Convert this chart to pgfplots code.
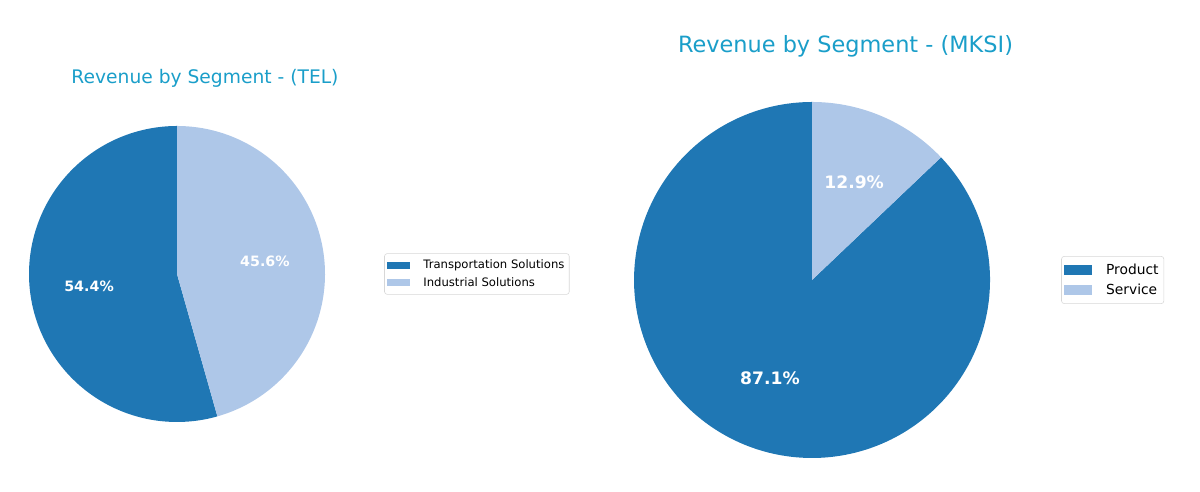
\documentclass[border=0pt]{standalone}
\usepackage{pgfplots}
\pgfplotsset{compat=1.18}
\usepackage{fontspec}
\setmainfont{DejaVu Sans}
\definecolor{cA}{HTML}{1F77B4}
\definecolor{cB}{HTML}{AEC7E8}
\definecolor{ttl}{RGB}{26,158,201}
\definecolor{lgd}{RGB}{215,215,215}

\begin{document}
\begin{tikzpicture}[x=0.72bp,y=0.72bp]
\useasboundingbox (0,0) rectangle (1200,492);
% ---------------- TEL ----------------
\begin{axis}[at={(127.44bp,156.96bp)}, anchor=center,
  width=213.12bp, height=213.12bp, scale only axis, hide axis,
  xmin=-1, xmax=1, ymin=-1, ymax=1, clip=false,
  legend cell align=left,
  legend image code/.code={\fill[#1,sharp corners] (2.9bp,-2.6bp) rectangle (19.4bp,2.6bp);},
  legend style={at={(1.2,0.5)}, anchor=west, draw=lgd, rounded corners=2bp,
    fill=white, font=\fontsize{8.4}{10}\selectfont,
    inner xsep=2bp, inner ysep=3bp, row sep=1.7bp, column sep=8bp,
    nodes={inner sep=1.5bp}}]
% Transportation Solutions 54.4 %, Industrial Solutions 45.6 %
\addplot[fill=cA, draw=none, domain=90:285.84, samples=150, variable=\t]
  ({cos(\t)},{sin(\t)}) -- (0,0) -- cycle;
\addlegendentry{Transportation Solutions}
\addplot[fill=cB, draw=none, domain=285.84:450, samples=150, variable=\t]
  ({cos(\t)},{sin(\t)}) -- (0,0) -- cycle;
\addlegendentry{Industrial Solutions}
\node[text=white, font=\fontsize{10.3}{12}\bfseries\selectfont]
  at (axis cs:{0.6*cos(187.92)},{0.6*sin(187.92)}) {54.4\%};
\node[text=white, font=\fontsize{10.3}{12}\bfseries\selectfont]
  at (axis cs:{0.6*cos(367.92)},{0.6*sin(367.92)}) {45.6\%};
\end{axis}
% ---------------- MKSI ----------------
\begin{axis}[at={(584.64bp,152.64bp)}, anchor=center,
  width=256.32bp, height=256.32bp, scale only axis, hide axis,
  xmin=-1, xmax=1, ymin=-1, ymax=1, clip=false,
  legend cell align=left,
  legend image code/.code={\fill[#1,sharp corners] (2.2bp,-3.4bp) rectangle (22bp,3.4bp);},
  legend style={at={(1.2,0.5)}, anchor=west, draw=lgd, rounded corners=2bp,
    fill=white, font=\fontsize{10}{12}\selectfont,
    inner xsep=2bp, inner ysep=3.5bp, row sep=1.7bp, column sep=8.5bp,
    nodes={inner sep=1.8bp}}]
% Product 87.1 %, Service 12.9 %
\addplot[fill=cA, draw=none, domain=90:403.56, samples=200, variable=\t]
  ({cos(\t)},{sin(\t)}) -- (0,0) -- cycle;
\addlegendentry{Product}
\addplot[fill=cB, draw=none, domain=43.56:90, samples=60, variable=\t]
  ({cos(\t)},{sin(\t)}) -- (0,0) -- cycle;
\addlegendentry{Service}
\node[text=white, font=\fontsize{12.4}{14}\bfseries\selectfont]
  at (axis cs:{0.6*cos(246.78)},{0.6*sin(246.78)}) {87.1\%};
\node[text=white, font=\fontsize{12.4}{14}\bfseries\selectfont]
  at (axis cs:{0.6*cos(66.78)},{0.6*sin(66.78)}) {12.9\%};
\end{axis}
% ---------------- titles ----------------
\node[anchor=base, text=ttl, font=\fontsize{13.5}{16}\selectfont]
  at (205,408.7) {Revenue by Segment - (TEL)};
\node[anchor=base, text=ttl, font=\fontsize{16.2}{19}\selectfont]
  at (845.5,439.7) {Revenue by Segment - (MKSI)};
\end{tikzpicture}
\end{document}
